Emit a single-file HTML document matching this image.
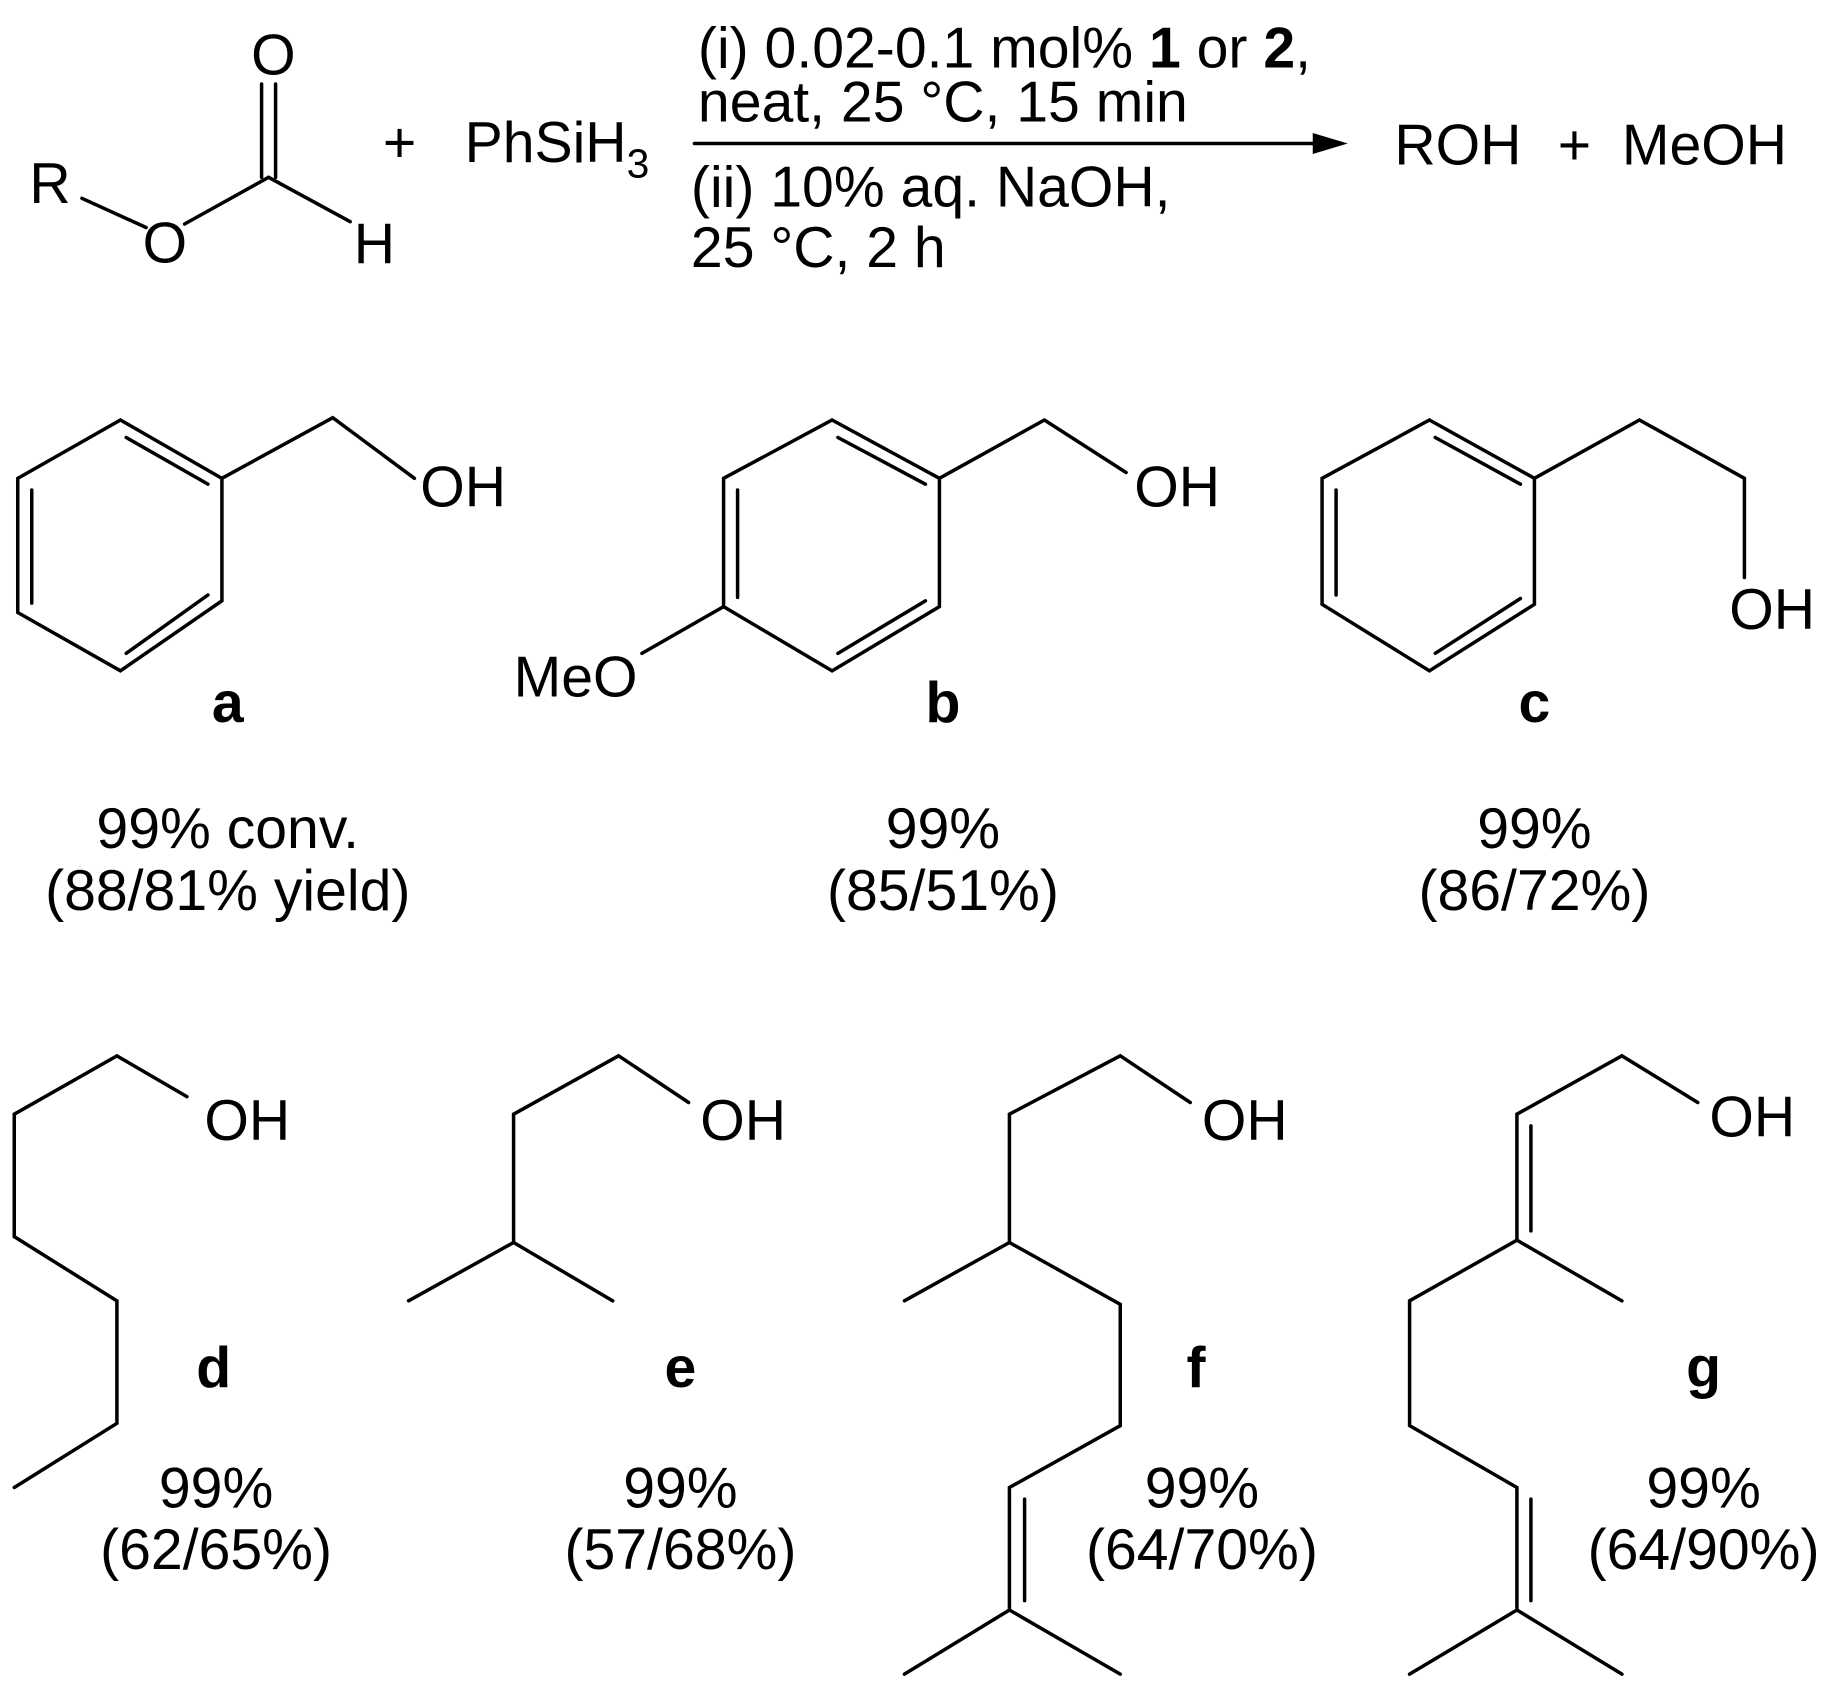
<!DOCTYPE html>
<html><head><meta charset="utf-8"><style>
html,body{margin:0;padding:0;background:#fff}
svg{display:block}
text{font-family:"Liberation Sans",Arial,sans-serif;font-size:49px;fill:#000}
</style></head><body>
<svg width="1824" height="1687" viewBox="0 0 1563 1446" xmlns="http://www.w3.org/2000/svg">
<g stroke="#000" stroke-width="3" fill="none" stroke-linecap="round">
<line x1="70" y1="170" x2="125" y2="195"/>
<line x1="158" y1="192" x2="230" y2="152"/>
<line x1="224" y1="152" x2="224" y2="72"/>
<line x1="236" y1="152" x2="236" y2="72"/>
<line x1="230" y1="152" x2="300" y2="190"/>
<line x1="595" y1="123" x2="1130" y2="123"/>
<polygon points="103,360 190,410 190,515 103,575 15,525 15,410"/>
<line x1="108" y1="375" x2="178" y2="415"/>
<line x1="178" y1="510" x2="108" y2="560"/>
<line x1="27" y1="420" x2="27" y2="517"/>
<polyline points="190,410 285,358 355,410"/>
<polygon points="713,360 805,410 805,520 713,575 620,520 620,410"/>
<line x1="718" y1="375" x2="793" y2="415"/>
<line x1="793" y1="515" x2="718" y2="560"/>
<line x1="632" y1="420" x2="632" y2="512"/>
<polyline points="805,410 895,360 965,405"/>
<line x1="620" y1="520" x2="550" y2="560"/>
<polygon points="1225,360 1315,410 1315,518 1225,575 1133,518 1133,410"/>
<line x1="1230" y1="375" x2="1303" y2="415"/>
<line x1="1303" y1="513" x2="1230" y2="560"/>
<line x1="1145" y1="420" x2="1145" y2="510"/>
<polyline points="1315,410 1405,360 1495,410 1495,495"/>
<polyline points="160,940 100,905 12,955 12,1060 100,1115 100,1220 12,1275"/>
<polyline points="590,945 530,905 440,955 440,1065 350,1115"/>
<line x1="440" y1="1065" x2="525" y2="1115"/>
<polyline points="1020,945 960,905 865,955 865,1065 775,1115"/>
<polyline points="865,1065 960,1118 960,1222 865,1275 865,1380 775,1435"/>
<line x1="865" y1="1380" x2="960" y2="1435"/>
<line x1="878" y1="1285" x2="878" y2="1372"/>
<polyline points="1455,945 1390,905 1300,955 1300,1063 1390,1115"/>
<polyline points="1300,1063 1208,1115 1208,1222 1300,1275 1300,1380 1208,1435"/>
<line x1="1300" y1="1380" x2="1390" y2="1435"/>
<line x1="1312" y1="965" x2="1312" y2="1055"/>
<line x1="1312" y1="1285" x2="1312" y2="1372"/>
</g>
<polygon points="1155,123 1125,114 1125,132" fill="#000"/>
<text x="25" y="174">R</text>
<text x="122" y="225">O</text>
<text x="215" y="64">O</text>
<text x="303" y="226">H</text>
<text x="328" y="139">+</text>
<text x="398" y="139">PhSiH<tspan font-size="35" dy="13">3</tspan></text>
<text x="598" y="58">(i) 0.02-0.1 mol% <tspan font-weight="bold">1</tspan> or <tspan font-weight="bold">2</tspan>,</text>
<text x="598" y="104">neat, 25 °C, 15 min</text>
<text x="592" y="177">(ii) 10% aq. NaOH,</text>
<text x="592" y="229">25 °C, 2 h</text>
<text x="1195" y="141">ROH</text>
<text x="1335" y="141">+</text>
<text x="1390" y="141">MeOH</text>
<text x="360" y="434">OH</text>
<text x="972" y="434">OH</text>
<text x="440" y="597">MeO</text>
<text x="1482" y="539">OH</text>
<text x="175" y="977">OH</text>
<text x="600" y="977">OH</text>
<text x="1030" y="977">OH</text>
<text x="1465" y="974">OH</text>
<g text-anchor="middle">
<text x="195" y="619" font-weight="bold">a</text>
<text x="808" y="619" font-weight="bold">b</text>
<text x="1315" y="619" font-weight="bold">c</text>
<text x="183" y="1189" font-weight="bold">d</text>
<text x="583" y="1189" font-weight="bold">e</text>
<text x="1025" y="1189" font-weight="bold">f</text>
<text x="1460" y="1189" font-weight="bold">g</text>
<text x="195" y="727">99% conv.</text>
<text x="195" y="780">(88/81% yield)</text>
<text x="808" y="727">99%</text>
<text x="808" y="780">(85/51%)</text>
<text x="1315" y="727">99%</text>
<text x="1315" y="780">(86/72%)</text>
<text x="185" y="1292">99%</text>
<text x="185" y="1345">(62/65%)</text>
<text x="583" y="1292">99%</text>
<text x="583" y="1345">(57/68%)</text>
<text x="1030" y="1292">99%</text>
<text x="1030" y="1345">(64/70%)</text>
<text x="1460" y="1292">99%</text>
<text x="1460" y="1345">(64/90%)</text>
</g>
</svg>
</body></html>
